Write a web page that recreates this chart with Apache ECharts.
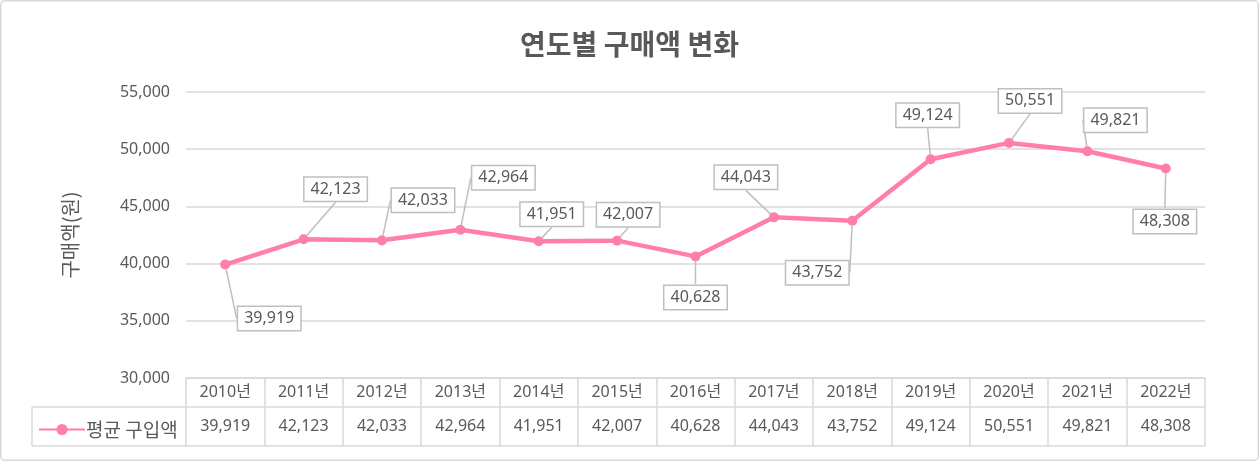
<!DOCTYPE html>
<html>
<head>
<meta charset="utf-8">
<script src="https://cdn.jsdelivr.net/npm/echarts@6/dist/echarts.min.js"></script>
<style>
html,body{margin:0;padding:0;background:#fff;}
#chart{width:1259px;height:461px;}
</style>
</head>
<body>
<div id="chart"></div>
<script>
// ---- data ----
const categories = ['2010년','2011년','2012년','2013년','2014년','2015년','2016년','2017년','2018년','2019년','2020년','2021년','2022년'];
const seriesName = '평균 구입액';
const values = [39919, 42123, 42033, 42964, 41951, 42007, 40628, 44043, 43752, 49124, 50551, 49821, 48308];
const yTicks = { min: 30000, max: 55000, interval: 5000 };
const titleText = '연도별 구매액 변화';
const yAxisName = '구매액(원)';

// label placement offsets (style only)
const labelOffsets = [[44,54],[32,-50],[41,-40],[43,-52],[13,-27],[11,-26],[0,41],[-28,-40],[-35,52],[-3,-44],[21,-42],[28,-31],[-1,53]];

const FONT = "'Noto Sans', 'Noto Sans CJK KR', sans-serif";
const KFONT = "'Noto Sans CJK KR', sans-serif";
const TXT = '#595959';
const GRID = '#d9d9d9';
const PINK = '#ff7eab';
const fmt = v => v.toLocaleString('en-US');

const gridLeft = 186, gridRight = 54, gridTop = 92, gridBottom = 83;
const W = 1259, H = 461;
const axisY = H - gridBottom;
const row1 = 29, row2 = 39;
const tableLeft = 32, tableRight = W - gridRight;

const chart = echarts.init(document.getElementById('chart'), null, {renderer:'canvas'});
chart.setOption({
  backgroundColor: '#fff',
  animation: false,
  textStyle: { fontFamily: FONT },
  title: {
    text: titleText, left: 'center', top: 25,
    textStyle: { fontSize: 28, fontWeight: 'bold', color: TXT, fontFamily: KFONT }
  },
  legend: {
    left: tableLeft + 1, top: axisY + row1 + 8,
    itemWidth: 46, itemHeight: 14, itemGap: 0,
    textStyle: { fontSize: 19, color: TXT, fontFamily: KFONT, padding: [0,0,0,-4] },
    data: [seriesName]
  },
  grid: { left: gridLeft, right: gridRight, top: gridTop, bottom: gridBottom },
  xAxis: {
    type: 'category', data: categories, boundaryGap: true,
    axisLine: { show: true, lineStyle: { color: GRID, width: 1.5 } },
    axisTick: { show: true, interval: 0, length: row1 + row2, alignWithLabel: false, lineStyle: { color: GRID, width: 1.5 } },
    axisLabel: {
      interval: 0, margin: 0,
      formatter: (v, i) => '{a|' + v + '}\n{b|' + fmt(values[i]) + '}',
      rich: {
        a: { fontSize: 16, lineHeight: row1, color: TXT, fontFamily: FONT },
        b: { fontSize: 16, lineHeight: row2, color: TXT, fontFamily: FONT }
      }
    }
  },
  yAxis: {
    type: 'value', min: yTicks.min, max: yTicks.max, interval: yTicks.interval,
    name: yAxisName, nameLocation: 'middle', nameGap: 106, nameRotate: 90,
    nameTextStyle: { fontSize: 20, color: TXT, fontFamily: KFONT },
    axisLine: { show: false }, axisTick: { show: false },
    axisLabel: { fontSize: 16, color: TXT, margin: 16, formatter: v => fmt(v) },
    splitLine: { lineStyle: { color: GRID, width: 1.5 } }
  },
  series: [{
    name: seriesName, type: 'line', data: values,
    symbol: 'circle', symbolSize: 10,
    lineStyle: { color: PINK, width: 4.5 },
    itemStyle: { color: PINK },
    label: {
      show: true, position: 'inside', formatter: p => fmt(p.value),
      fontSize: 16, color: TXT, backgroundColor: '#fff',
      borderColor: '#bfbfbf', borderWidth: 1.5, padding: [4, 6, 3, 6]
    },
    labelLine: { show: true, lineStyle: { color: '#bfbfbf', width: 1.5 } },
    labelLayout: p => ({ dx: labelOffsets[p.dataIndex][0], dy: labelOffsets[p.dataIndex][1] }),
    z: 3
  }],
  graphic: [
    { type: 'rect', shape: { x: 0.75, y: 0.75, width: W - 1.5, height: H - 1.5, r: 4 }, style: { fill: 'none', stroke: GRID, lineWidth: 1.5 }, silent: true, z: -1 },
    { type: 'line', shape: { x1: tableLeft, y1: axisY + row1, x2: tableRight, y2: axisY + row1 }, style: { stroke: GRID, lineWidth: 1.5 }, silent: true },
    { type: 'line', shape: { x1: tableLeft, y1: axisY + row1 + row2, x2: tableRight, y2: axisY + row1 + row2 }, style: { stroke: GRID, lineWidth: 1.5 }, silent: true },
    { type: 'line', shape: { x1: tableLeft, y1: axisY + row1, x2: tableLeft, y2: axisY + row1 + row2 }, style: { stroke: GRID, lineWidth: 1.5 }, silent: true }
  ]
});
</script>
</body>
</html>
